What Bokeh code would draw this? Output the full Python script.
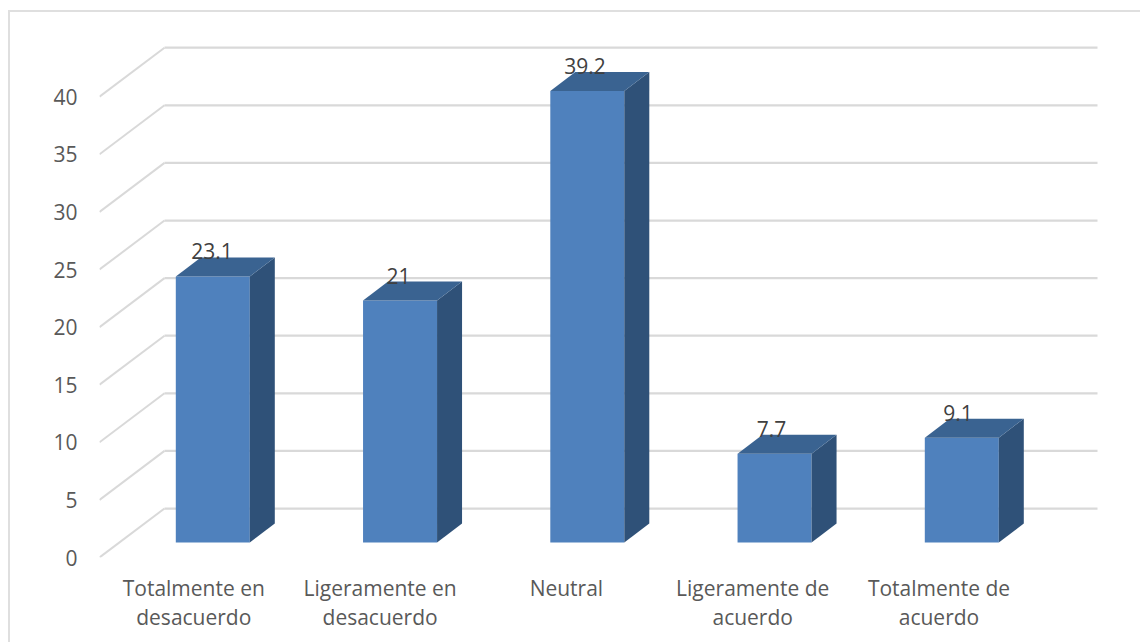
from bokeh.plotting import figure
from bokeh.embed import file_html
from bokeh.resources import INLINE
from bokeh.models import FixedTicker, Range1d, ColumnDataSource
from bokeh.core.properties import value

categories = ["Totalmente en\ndesacuerdo", "Ligeramente en\ndesacuerdo", "Neutral",
              "Ligeramente de\nacuerdo", "Totalmente de\nacuerdo"]
values = [23.1, 21, 39.2, 7.7, 9.1]
value_labels = ["23.1", "21", "39.2", "7.7", "9.1"]
y_ticks = [0, 5, 10, 15, 20, 25, 30, 35, 40]

FONT = "Open Sans"
X_UNIT = 186.3
X_ORIGIN = 193.3
Y_UNIT = 11.52
W, H = 1132, 632
LEFT, TOP, EDGE = 8, 10, 2


def xpos(px):
    return (px - X_ORIGIN) / X_UNIT


x_start = xpos(99)
x_end = xpos(LEFT + EDGE + W)
back_x0 = xpos(164)
back_x1 = xpos(1097)
back_lift = 49 / Y_UNIT
bar_lift = 15 / Y_UNIT
bar_half = 37 / X_UNIT
depth_x = 25 / X_UNIT
depth_y = 19 / Y_UNIT
label_lift = 25 / Y_UNIT
bar_step = 187.25
bar_first = 212.3
label_step = 186.5
label_first = 211.5

frame_h = 557 - TOP - EDGE
p = figure(width=W, height=H, output_backend="svg", toolbar_location=None,
           x_range=Range1d(x_start, x_end), y_range=Range1d(0, frame_h / Y_UNIT),
           min_border_left=99 - LEFT - EDGE, min_border_right=0, min_border_top=0,
           min_border_bottom=H - frame_h,
           margin=(TOP, 0, 0, LEFT),
           styles={"border-top": "2px solid #dfdfdf", "border-left": "2px solid #dfdfdf"})
p.outline_line_color = None
p.grid.visible = False

p.xaxis.ticker = FixedTicker(ticks=list(range(len(categories))))
p.xaxis.major_label_overrides = {i: c for i, c in enumerate(categories)}
p.yaxis.ticker = FixedTicker(ticks=y_ticks)
for ax in (p.xaxis, p.yaxis):
    ax.axis_line_color = None
    ax.major_tick_line_color = None
    ax.minor_tick_line_color = None
    ax.major_label_text_font = FONT
    ax.major_label_text_font_size = "21px"
    ax.major_label_text_color = "#595959"
p.yaxis.major_label_standoff = 16
p.xaxis.major_label_standoff = 10
p.xaxis.major_label_text_line_height = 1.07

# walls
for t in y_ticks:
    p.line([x_start, back_x0], [t, t + back_lift], line_color="#d9d9d9", line_width=2)
    p.line([back_x0, back_x1], [t + back_lift] * 2, line_color="#d9d9d9", line_width=2.25)

# bars
centers = [xpos(bar_first + bar_step * i) for i in range(len(values))]
lefts = [c - bar_half for c in centers]
rights = [c + bar_half for c in centers]
bottoms = [bar_lift] * len(values)
tops = [v + bar_lift for v in values]
p.quad(left=lefts, right=rights, bottom=bottoms, top=tops, fill_color="#4f81bd", line_color=None)
p.patches(xs=[[r, r + depth_x, r + depth_x, r] for r in rights],
          ys=[[b, b + depth_y, t + depth_y, t] for b, t in zip(bottoms, tops)],
          fill_color="#2f5178", line_color=None)
p.patches(xs=[[l, l + depth_x, r + depth_x, r] for l, r in zip(lefts, rights)],
          ys=[[t, t + depth_y, t + depth_y, t] for t in tops],
          fill_color="#3a6391", line_color=None)

src = ColumnDataSource(dict(x=[xpos(label_first + label_step * i) for i in range(len(values))],
                            y=[t + label_lift for t in tops], text=value_labels))
p.text(x="x", y="y", text="text", source=src, text_font=value(FONT), text_font_size="21px",
       text_color="#404040", text_align="center", text_baseline="middle")

open("out.html", "w").write(file_html(p, INLINE))
